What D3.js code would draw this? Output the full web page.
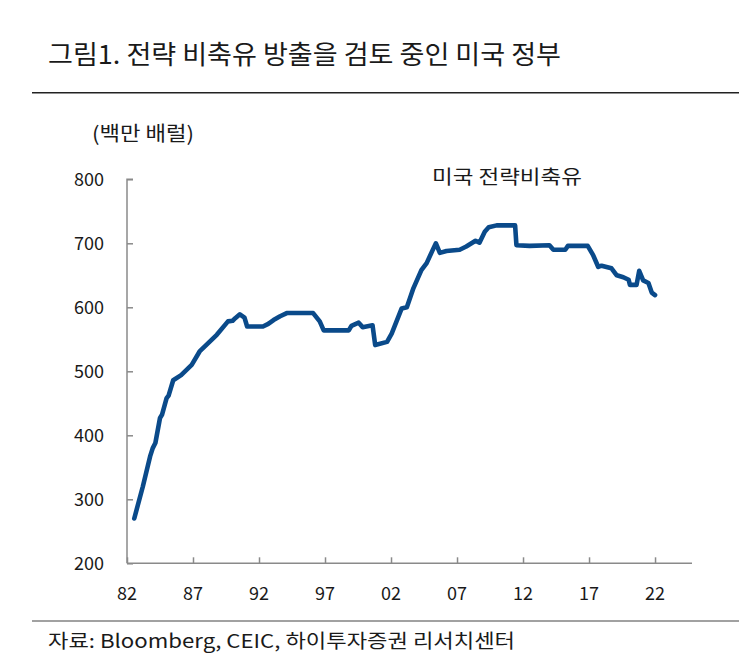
<!DOCTYPE html>
<html><head><meta charset="utf-8">
<script src="https://cdn.jsdelivr.net/npm/d3@7"></script>
<style>body{margin:0;background:#fff}svg{display:block}</style>
</head><body>
<svg id="c" width="743" height="670"></svg>
<script>
const title = "그림1. 전략 비축유 방출을 검토 중인 미국 정부";
const unitLabel = "(백만 배럴)";
const seriesName = "미국 전략비축유";
const source = "자료: Bloomberg, CEIC, 하이투자증권 리서치센터";
const yTicks = [200, 300, 400, 500, 600, 700, 800];
const xTickYears = [1982, 1987, 1992, 1997, 2002, 2007, 2012, 2017, 2022];
const xTickLabels = ["82", "87", "92", "97", "02", "07", "12", "17", "22"];
const years = [1982.55,1983.2,1983.75,1983.95,1984.15,1984.5,1984.65,1985.0,1985.15,1985.5,1986.1,1986.9,1987.5,1988.15,1988.8,1989.65,1990.0,1990.2,1990.55,1990.9,1991.1,1992.3,1992.7,1993.1,1993.6,1994.1,1996.1,1996.6,1996.9,1998.8,1999.0,1999.55,1999.85,2000.6,2000.8,2001.7,2002.05,2002.8,2003.2,2003.7,2004.3,2004.7,2005.1,2005.4,2005.7,2006.2,2007.2,2007.7,2008.4,2008.7,2009.1,2009.4,2010.0,2011.4,2011.5,2012.5,2014.0,2014.3,2015.2,2015.4,2016.9,2017.3,2017.7,2017.95,2018.7,2019.1,2019.6,2020.0,2020.1,2020.6,2020.8,2021.1,2021.5,2021.75,2022.0];
const values = [270,320,367,380,388,427,432,458,462,486,494,510,531,544,557,578,579,583,589,584,570,570,574,580,586,591,591,578,564,564,571,576,569,572,541,546,559,598,600,630,658,669,687,700,685,688,690,695,704,701,718,725,728,728,697,696,697,690,690,696,696,682,663,665,661,650,647,643,635,635,657,642,638,623,619];

const svg = d3.select("#c");
const font = "'Noto Sans CJK KR', 'Noto Sans', sans-serif";

const x = d3.scaleLinear().domain([1982, 2024.8]).range([127, 692]);
const y = d3.scaleLinear().domain([200, 800]).range([563.3, 179.3]);

// title
svg.append("text").attr("x", 48).attr("y", 64).attr("font-family", font)
  .attr("font-size", 26).attr("fill", "#1a1a1a").attr("textLength", 513)
  .attr("lengthAdjust", "spacingAndGlyphs").text(title);
svg.append("line").attr("x1", 32).attr("x2", 739).attr("y1", 92.7).attr("y2", 92.7)
  .attr("stroke", "#222").attr("stroke-width", 1.5);

// unit
svg.append("text").attr("x", 92).attr("y", 141).attr("font-family", font)
  .attr("font-size", 20).attr("fill", "#1a1a1a").attr("textLength", 102)
  .attr("lengthAdjust", "spacingAndGlyphs").text(unitLabel);

// y axis
const yAxis = d3.axisRight(y).tickValues(yTicks).tickSize(6).tickFormat("");
const gy = svg.append("g").attr("transform", "translate(127,0)").call(yAxis);
gy.select(".domain").attr("d", `M6,${y(800)}H0V${y(200)}`);
gy.selectAll("line,path").attr("stroke", "#8a8a8a").attr("stroke-width", 1.5);
yTicks.forEach(v => {
  svg.append("text").attr("x", 104).attr("y", y(v)).attr("dy", "0.35em")
    .attr("text-anchor", "end").attr("font-family", font).attr("font-size", 18)
    .attr("fill", "#1a1a1a").text(v);
});

// x axis
const xAxis = d3.axisTop(x).tickValues(xTickYears).tickSize(6).tickFormat("");
const gx = svg.append("g").attr("transform", `translate(0,${y(200)})`).call(xAxis);
gx.select(".domain").attr("d", `M${x(1982)},0H${x(2024.8)}`);
gx.selectAll("line,path").attr("stroke", "#8a8a8a").attr("stroke-width", 1.5);
xTickYears.forEach((v, i) => {
  svg.append("text").attr("x", x(v)).attr("y", 594).attr("dy", "0.35em")
    .attr("text-anchor", "middle").attr("font-family", font).attr("font-size", 18)
    .attr("fill", "#1a1a1a").text(xTickLabels[i]);
});

// line
const data = years.map((yr, i) => ({yr, v: values[i]}));
svg.append("path").datum(data)
  .attr("d", d3.line().x(d => x(d.yr)).y(d => y(d.v)))
  .attr("fill", "none").attr("stroke", "#0a4a8a").attr("stroke-width", 4.6)
  .attr("stroke-linejoin", "round").attr("stroke-linecap", "round");

// series label
svg.append("text").attr("x", 432).attr("y", 177).attr("dy", "0.35em")
  .attr("font-family", font).attr("font-size", 19).attr("fill", "#1a1a1a")
  .attr("textLength", 150).attr("lengthAdjust", "spacingAndGlyphs").text(seriesName);

// footer
svg.append("line").attr("x1", 32).attr("x2", 739).attr("y1", 621).attr("y2", 621)
  .attr("stroke", "#444").attr("stroke-width", 1.2);
svg.append("text").attr("x", 48).attr("y", 648).attr("font-family", font)
  .attr("font-size", 19).attr("fill", "#1a1a1a").attr("textLength", 467)
  .attr("lengthAdjust", "spacingAndGlyphs").text(source);
</script>
</body></html>
